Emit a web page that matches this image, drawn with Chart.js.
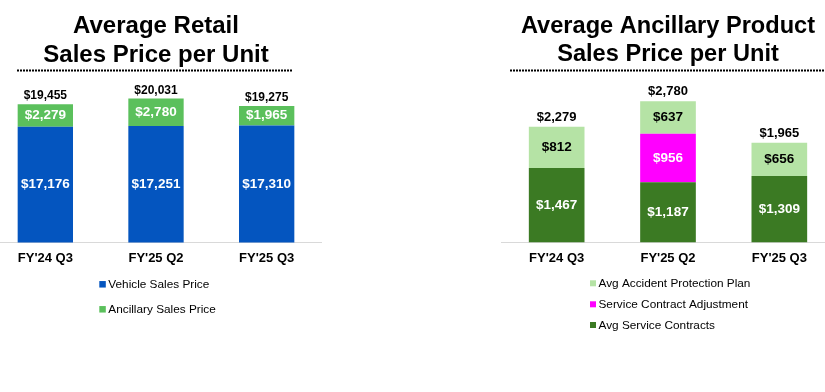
<!DOCTYPE html>
<html>
<head>
<meta charset="utf-8">
<script src="https://cdn.jsdelivr.net/npm/chart.js@4.4.1/dist/chart.umd.min.js"></script>
<style>
  html, body { margin: 0; padding: 0; background: #fff; }
  body { width: 825px; height: 392px; overflow: hidden; position: relative; }
  canvas { position: absolute; top: 0; }
  #left { left: -10px; }
  #right { left: 501px; }
</style>
</head>
<body>
<canvas id="left" width="332" height="392"></canvas>
<canvas id="right" width="334" height="392"></canvas>
<script>
// ---- data ----
const categories = ["FY'24 Q3", "FY'25 Q2", "FY'25 Q3"];

const leftTitle = ["Average Retail", "Sales Price per Unit"];
const vehicleSalesPrice = [17176, 17251, 17310];
const ancillarySalesPrice = [2279, 2780, 1965];

const rightTitle = ["Average Ancillary Product", "Sales Price per Unit"];
const avgServiceContracts = [1467, 1187, 1309];
const serviceContractAdjustment = [null, 956, null];
const avgAccidentProtectionPlan = [812, 637, 656];

const FONT = '"Liberation Sans", Arial, Helvetica, sans-serif';
const fmt = v => '$' + v.toLocaleString('en-US');

// value labels inside segments + totals above stacks
const valueLabels = {
  id: 'valueLabels',
  afterDatasetsDraw(chart, args, opts) {
    const ctx = chart.ctx;
    ctx.save();
    ctx.textAlign = 'center';
    ctx.textBaseline = 'middle';
    const n = chart.data.labels.length;
    const tops = new Array(n).fill(Infinity);
    const xs = new Array(n).fill(0);
    const bottom = chart.chartArea.bottom;
    chart.data.datasets.forEach((ds, di) => {
      const meta = chart.getDatasetMeta(di);
      meta.data.forEach((el, i) => {
        const v = ds.data[i];
        if (v === null || v === undefined) return;
        const p = el.getProps(['x', 'y', 'base'], true);
        const base = Math.min(p.base, bottom);
        xs[i] = p.x;
        tops[i] = Math.min(tops[i], p.y);
        ctx.font = 'bold ' + opts.innerSize + 'px ' + FONT;
        ctx.fillStyle = ds.labelColor;
        ctx.fillText(fmt(v), p.x, (p.y + base) / 2);
      });
    });
    ctx.font = 'bold ' + opts.totalSize + 'px ' + FONT;
    ctx.fillStyle = '#000';
    for (let i = 0; i < n; i++) {
      let sum = 0;
      chart.data.datasets.forEach(ds => { sum += ds.data[i] || 0; });
      ctx.fillText(fmt(sum), xs[i], tops[i] - opts.totalGap);
    }
    ctx.restore();
  }
};

// dotted rule under title + vertical legend
const decor = {
  id: 'decor',
  afterDraw(chart, args, opts) {
    const ctx = chart.ctx;
    ctx.save();
    ctx.strokeStyle = '#000';
    ctx.lineWidth = 2;
    ctx.setLineDash([2, 1]);
    ctx.beginPath();
    ctx.moveTo(opts.ruleX1, opts.ruleY);
    ctx.lineTo(opts.ruleX2, opts.ruleY);
    ctx.stroke();
    ctx.setLineDash([]);
    ctx.font = opts.legendSize + 'px ' + FONT;
    ctx.textBaseline = 'middle';
    ctx.textAlign = 'left';
    opts.order.forEach((di, k) => {
      const ds = chart.data.datasets[di];
      const y = opts.legendY[k];
      const s = opts.box;
      ctx.fillStyle = ds.backgroundColor;
      ctx.fillRect(opts.legendX, y - s / 2, s, s);
      ctx.fillStyle = '#000';
      ctx.fillText(ds.label, opts.legendX + s + 2.5, y + 0.5);
    });
    ctx.restore();
  }
};

function baseOptions(title, titleSize, yMin, yMax, totalSize, totalGap, decorOpts) {
  return {
    responsive: false,
    animation: false,
    devicePixelRatio: 1,
    layout: { padding: { top: 0, left: 0, right: 0, bottom: 119.5 } },
    datasets: { bar: { categoryPercentage: 1, barPercentage: 0.5 } },
    scales: {
      x: {
        stacked: true,
        grid: { display: false, drawTicks: false },
        border: { display: true, color: '#d9d9d9', width: 1 },
        ticks: { color: '#000', padding: 8, font: { family: FONT, size: 13, weight: 'bold' } },
        afterFit(scale) { scale.height = 30; }
      },
      y: { stacked: true, display: false, min: yMin, max: yMax }
    },
    plugins: {
      legend: { display: false },
      tooltip: { enabled: false },
      title: {
        display: true,
        text: title,
        color: '#000',
        font: { family: FONT, size: titleSize, weight: 'bold', lineHeight: 28.3 / titleSize },
        padding: { top: 12.5, bottom: 10.9 }
      },
      valueLabels: { innerSize: 13.5, totalSize: totalSize, totalGap: totalGap },
      decor: decorOpts
    }
  };
}

new Chart(document.getElementById('left'), {
  type: 'bar',
  data: {
    labels: categories,
    datasets: [
      { label: 'Vehicle Sales Price', data: vehicleSalesPrice, backgroundColor: '#0455bf', labelColor: '#fff' },
      { label: 'Ancillary Sales Price', data: ancillarySalesPrice, backgroundColor: '#5bc05c', labelColor: '#fff' }
    ]
  },
  options: baseOptions(leftTitle, 24, 5500, 21900, 12, 8.2, {
    ruleX1: 27, ruleX2: 303, ruleY: 70.5,
    legendX: 109.3, legendY: [284.3, 309.3], box: 6.5, legendSize: 11.8, order: [0, 1]
  }),
  plugins: [valueLabels, decor]
});

new Chart(document.getElementById('right'), {
  type: 'bar',
  data: {
    labels: categories,
    datasets: [
      { label: 'Avg Service Contracts', data: avgServiceContracts, backgroundColor: '#3b7a23', labelColor: '#fff' },
      { label: 'Service Contract Adjustment', data: serviceContractAdjustment, backgroundColor: '#ff00ff', labelColor: '#fff' },
      { label: 'Avg Accident Protection Plan', data: avgAccidentProtectionPlan, backgroundColor: '#b5e3a5', labelColor: '#000' }
    ]
  },
  options: baseOptions(rightTitle, 23.6, 0, 3200, 13, 9.5, {
    ruleX1: 9, ruleX2: 334, ruleY: 70.5,
    legendX: 89, legendY: [283.3, 304.3, 325], box: 6, legendSize: 11.8, order: [2, 1, 0]
  }),
  plugins: [valueLabels, decor]
});
</script>
</body>
</html>
